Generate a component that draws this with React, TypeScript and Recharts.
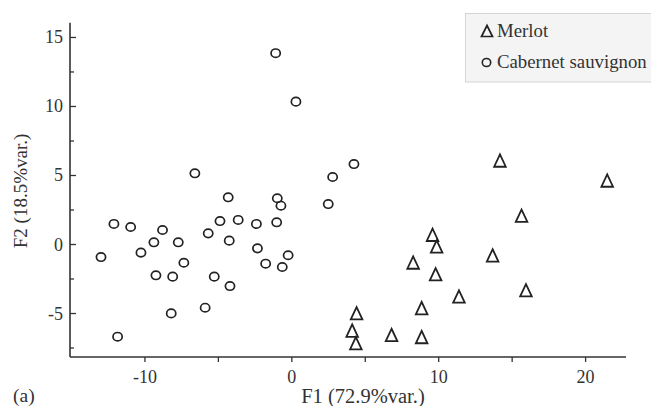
import React from "react";
import { ScatterChart, Scatter, XAxis, YAxis } from "recharts";

const merlotF1 = [14.17, 21.47, 15.64, 9.58, 9.86, 13.67, 8.26, 9.79, 11.38, 15.94, 8.84, 4.41, 4.11, 4.36, 6.79, 8.84];
const merlotF2 = [6.07, 4.62, 2.07, 0.69, -0.16, -0.8, -1.32, -2.16, -3.78, -3.33, -4.62, -4.99, -6.25, -7.16, -6.56, -6.72];

const cabF1 = [-1.1, 0.28, 4.23, 2.78, -6.6, -4.33, -0.99, -0.74, 2.48, -12.11, -10.97, -8.8, -4.89, -3.65, -2.41, -1.03, -5.69, -4.26, -9.39, -7.73, -10.27, -12.99, -2.34, -7.35, -0.25, -1.78, -0.65, -9.25, -8.11, -5.28, -4.21, -5.9, -8.21, -11.86];
const cabF2 = [13.86, 10.35, 5.83, 4.89, 5.16, 3.42, 3.35, 2.81, 2.93, 1.49, 1.27, 1.05, 1.7, 1.78, 1.49, 1.61, 0.81, 0.28, 0.16, 0.16, -0.59, -0.91, -0.28, -1.32, -0.78, -1.39, -1.63, -2.23, -2.33, -2.33, -3.01, -4.58, -4.99, -6.68];

const xTicks = [-10, -5, 0, 5, 10, 15, 20];
const xLabelTicks = [-10, 0, 10, 20];
const yTicks = [-7.5, -5, -2.5, 0, 2.5, 5, 7.5, 10, 12.5, 15];
const yLabelTicks = [-5, 0, 5, 10, 15];

const seriesNames = ["Merlot", "Cabernet sauvignon"];
const xTitle = "F1 (72.9%var.)";
const yTitle = "F2 (18.5%var.)";
const panelTag = "(a)";

const merlotData = merlotF1.map((x, i) => ({ x, y: merlotF2[i] }));
const cabData = cabF1.map((x, i) => ({ x, y: cabF2[i] }));

const FONT = '"Liberation Serif", "Times New Roman", serif';
const INK = "#222";
const TEXT = "#333";

const Triangle = (props: any) => {
  const { cx, cy } = props;
  if (cx == null || cy == null) return null;
  return (
    <path
      d={`M${cx},${cy - 6.3} L${cx + 5.8},${cy + 6} L${cx - 5.8},${cy + 6} Z`}
      fill="none"
      stroke={INK}
      strokeWidth={1.8}
      strokeLinejoin="miter"
    />
  );
};

const Ring = (props: any) => {
  const { cx, cy } = props;
  if (cx == null || cy == null) return null;
  return <ellipse cx={cx} cy={cy} rx={4.6} ry={4.2} fill="none" stroke={INK} strokeWidth={1.7} />;
};

const YTick = (props: any) => {
  const { x, y, payload } = props;
  const v = payload.value;
  const axisX = x + 7;
  const major = yLabelTicks.includes(v);
  return (
    <g>
      <line x1={axisX} x2={axisX + (major ? 6 : 4)} y1={y} y2={y} stroke={TEXT} strokeWidth={1.3} />
      {major && (
        <text x={x} y={y} dy={6} textAnchor="end" fontFamily={FONT} fontSize={18} fill={TEXT}>
          {v}
        </text>
      )}
    </g>
  );
};

const XTick = (props: any) => {
  const { x, y, payload } = props;
  const v = payload.value;
  if (!xLabelTicks.includes(v)) return null;
  return (
    <text x={x} y={y} dy={19} textAnchor="middle" fontFamily={FONT} fontSize={18} fill={TEXT}>
      {v}
    </text>
  );
};

export default function App() {
  return (
    <div style={{ position: "absolute", left: 0, top: 0, width: 651, height: 406, overflow: "hidden", background: "#fff" }}>
      <ScatterChart
        width={651}
        height={406}
        margin={{ top: 22.7, right: 25, left: 10, bottom: 19 }}
      >
        <XAxis
          type="number"
          dataKey="x"
          domain={[-15.1, 22.75]}
          allowDataOverflow
          ticks={xTicks}
          tick={<XTick />}
          tickSize={5}
          tickMargin={2}
          height={30}
          axisLine={{ stroke: TEXT, strokeWidth: 1.6 }}
          tickLine={{ stroke: TEXT, strokeWidth: 1.3 }}
        />
        <YAxis
          type="number"
          dataKey="y"
          domain={[-8.15, 16.07]}
          allowDataOverflow
          ticks={yTicks}
          tick={<YTick />}
          tickSize={0}
          tickMargin={7}
          tickLine={false}
          width={60}
          axisLine={{ stroke: TEXT, strokeWidth: 1.6 }}
        />
        <Scatter name={seriesNames[0]} data={merlotData} shape={<Triangle />} isAnimationActive={false} />
        <Scatter name={seriesNames[1]} data={cabData} shape={<Ring />} isAnimationActive={false} />
      </ScatterChart>
      <svg
        width={651}
        height={406}
        style={{ position: "absolute", left: 0, top: 0, pointerEvents: "none" }}
      >
        <rect x={465.5} y={13.5} width={200} height={68.5} fill="#f4f4f4" stroke="#d4d4d4" strokeWidth={1} />
        <path d="M487,25.5 L492.5,36.5 L481.5,36.5 Z" fill="none" stroke={INK} strokeWidth={1.7} />
        <text x={497} y={37} fontFamily={FONT} fontSize={18.8} fill={TEXT}>
          {seriesNames[0]}
        </text>
        <ellipse cx={486.5} cy={62.5} rx={4.2} ry={4} fill="none" stroke={INK} strokeWidth={1.6} />
        <text x={497} y={68} fontFamily={FONT} fontSize={18.8} fill={TEXT}>
          {seriesNames[1]}
        </text>
        <text x={363} y={403} textAnchor="middle" fontFamily={FONT} fontSize={20.5} fill={TEXT}>
          {xTitle}
        </text>
        <text x={13} y={402} fontFamily={FONT} fontSize={19.5} fill={TEXT}>
          {panelTag}
        </text>
        <text
          x={27}
          y={191}
          textAnchor="middle"
          transform="rotate(-90, 27, 191)"
          fontFamily={FONT}
          fontSize={19}
          fill={TEXT}
        >
          {yTitle}
        </text>
      </svg>
    </div>
  );
}
